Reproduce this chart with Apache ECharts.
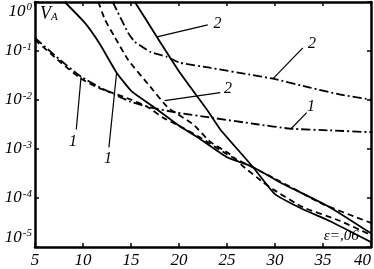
<!DOCTYPE html>
<html><head><meta charset="utf-8">
<script src="https://cdn.jsdelivr.net/npm/echarts@6/dist/echarts.min.js"></script>
<style>html,body{margin:0;padding:0;background:#fff}#c{width:374px;height:269px}</style>
</head><body><div id="c"></div>
<script>
// axis ticks
const xTickLabels = ['5','10','15','20','25','30','35','40'];
const yExponents = [0,-1,-2,-3,-4,-5];

// curve 1 (solid)
const solid1X = [8.1, 10.2, 11.8, 13.5, 15.1, 17.3, 20.1, 22.2, 25.0, 27.7, 30.5, 35.7, 40];
const solid1Y = [1, 0.374, 0.134, 0.036, 0.0148, 0.0074, 0.0029, 0.0016, 6.8e-4, 4.3e-4, 2.1e-4, 6.5e-5, 1.9e-5];
// curve 2 (solid)
const solid2X = [15.4, 17.7, 20.1, 22.9, 24.3, 27.7, 30.0, 32.9, 35.7, 40];
const solid2Y = [1, 0.194, 0.036, 0.0064, 0.0025, 4.3e-4, 1.2e-4, 5.9e-5, 3.4e-5, 1.26e-5];
// curve 1 (dashed)
const dashed1X = [5, 7.6, 9.8, 11.8, 14.2, 16.7, 18.3, 20.1, 22.2, 25.0, 27.7, 30.5, 35.0, 40];
const dashed1Y = [0.169, 0.0604, 0.0272, 0.0171, 0.0117, 0.0073, 0.0044, 0.0029, 0.00172, 7.8e-4, 4.2e-4, 2.2e-4, 7.5e-5, 3.1e-5];
// curve 2 (dashed)
const dashed2X = [11.6, 12.3, 13.3, 14.7, 17.0, 18.85, 21.5, 23.2, 25.3, 26.7, 28.75, 29.8, 32.9, 36.8, 40];
const dashed2Y = [1, 0.43, 0.194, 0.066, 0.0187, 0.0070, 0.00316, 0.00143, 7.8e-4, 4.4e-4, 2.1e-4, 1.5e-4, 6.5e-5, 3.4e-5, 1.75e-5];
// curve 1 (dash-dot)
const dashdot1X = [5, 7.6, 9.8, 11.8, 13.3, 14.9, 16.7, 19.8, 23.2, 28.1, 31.6, 35.7, 40];
const dashdot1Y = [0.185, 0.066, 0.0299, 0.0179, 0.0129, 0.0093, 0.0073, 0.0055, 0.0044, 0.0032, 0.0026, 0.0024, 0.0022];
// curve 2 (dash-dot)
const dashdot2X = [13.1, 14.7, 15.4, 17.0, 18.75, 20.1, 23.2, 27.4, 29.8, 33.65, 36.8, 40];
const dashdot2Y = [1, 0.234, 0.154, 0.0964, 0.0762, 0.0575, 0.0456, 0.0328, 0.0272, 0.0179, 0.0129, 0.0102];

// annotation labels: text, leader start, leader end, label position (data coords)
const annText = ['2','2','2','1','1','1'];
const annFrom = [[17.7,0.194],[29.8,0.0272],[18.5,0.0097],[31.6,0.0025],[9.8,0.030],[13.5,0.036]];
const annTo   = [[23.0,0.34],[32.9,0.116],[24.3,0.0141],[33.3,0.00554],[9.3,0.0025],[12.7,0.00108]];
const annAt   = [[24.0,0.36],[33.85,0.14],[25.1,0.017],[33.75,0.0073],[8.95,0.00143],[12.6,0.00064]];
const paramText = 'ε=,06';
const paramAt = [36.9, 1.67e-5];

const zip = (xs, ys) => xs.map((x, i) => [x, ys[i]]);
const serifFont = "'Liberation Serif','DejaVu Serif',serif";

const chart = echarts.init(document.getElementById('c'), null, {renderer: 'canvas'});

function lineSeries(name, xs, ys, type) {
  return {
    name, type: 'line', data: zip(xs, ys), symbol: 'none', smooth: 0.15,
    lineStyle: {color: '#000', width: 1.8, type: type},
    z: 3, animation: false
  };
}

const axisCommon = {
  axisLine: {show: true, onZero: false, lineStyle: {color: '#000', width: 2.5}},
  axisTick: {show: true, inside: true, length: 4, lineStyle: {color: '#000', width: 1.5}},
  splitLine: {show: false}
};

chart.setOption({
  animation: false,
  backgroundColor: '#fff',
  grid: {left: 35, right: 3, top: 2, bottom: 21, containLabel: false},
  xAxis: [
    Object.assign({type: 'value', min: 5, max: 40, interval: 5, position: 'bottom',
      axisLabel: {show: true, color: '#000', fontFamily: serifFont, fontStyle: 'italic', fontSize: 17, margin: 5,
        alignMaxLabel: 'right',
        formatter: v => xTickLabels[Math.round((v - 5) / 5)] || ''}}, axisCommon),
    Object.assign({type: 'value', min: 5, max: 40, interval: 5, position: 'top', axisLabel: {show: false}}, axisCommon)
  ],
  yAxis: [
    Object.assign({type: 'log', logBase: 10, min: 1e-5, max: 1, position: 'left',
      axisLabel: {show: true, color: '#000', margin: 3,
        verticalAlignMaxLabel: 'top', verticalAlignMinLabel: 'bottom',
        formatter: v => {
          const e = Math.round(Math.log10(v));
          return yExponents.indexOf(e) >= 0 ? '{b|10}{s|' + (e === 0 ? '0' : '-' + (-e)) + '}' : '';
        },
        rich: {
          b: {fontFamily: serifFont, fontStyle: 'italic', fontSize: 17, color: '#000'},
          s: {fontFamily: serifFont, fontStyle: 'italic', fontSize: 11, color: '#000', padding: [0, 0, 8, 1]}
        }}}, axisCommon),
    Object.assign({type: 'log', logBase: 10, min: 1e-5, max: 1, position: 'right', axisLabel: {show: false}}, axisCommon)
  ],
  series: [
    lineSeries('1 solid', solid1X, solid1Y, 'solid'),
    lineSeries('2 solid', solid2X, solid2Y, 'solid'),
    lineSeries('1 dashed', dashed1X, dashed1Y, [6, 4]),
    lineSeries('2 dashed', dashed2X, dashed2Y, [6, 4]),
    lineSeries('1 dash-dot', dashdot1X, dashdot1Y, [9, 3, 2, 3]),
    lineSeries('2 dash-dot', dashdot2X, dashdot2Y, [9, 3, 2, 3])
  ]
});

function drawAnnotations() {
  const els = [];
  const px = p => chart.convertToPixel({xAxisIndex: 0, yAxisIndex: 0}, p);
  annText.forEach((t, i) => {
    const a = px(annFrom[i]), b = px(annTo[i]), c = px(annAt[i]);
    els.push({type: 'line', shape: {x1: a[0], y1: a[1], x2: b[0], y2: b[1]}, style: {stroke: '#000', lineWidth: 1.2}, z: 10});
    els.push({type: 'text', x: c[0], y: c[1], style: {text: t, font: 'italic 16px ' + serifFont, fill: '#000', align: 'center', verticalAlign: 'middle'}, z: 10});
  });
  const pp = px(paramAt);
  els.push({type: 'text', x: pp[0], y: pp[1], style: {text: paramText, font: 'italic 15px ' + serifFont, fill: '#000', align: 'center', verticalAlign: 'middle'}, z: 10});
  // V_A axis title
  els.push({type: 'text', left: 40, top: 5, style: {rich: {v: {font: 'italic 18px ' + serifFont, fill: '#000'}, a: {font: 'italic 11px ' + serifFont, fill: '#000', padding: [7, 0, 0, 0]}}, text: '{v|V}{a|A}'}, z: 10});
  chart.setOption({graphic: els});
}
drawAnnotations();
</script>
</body></html>
